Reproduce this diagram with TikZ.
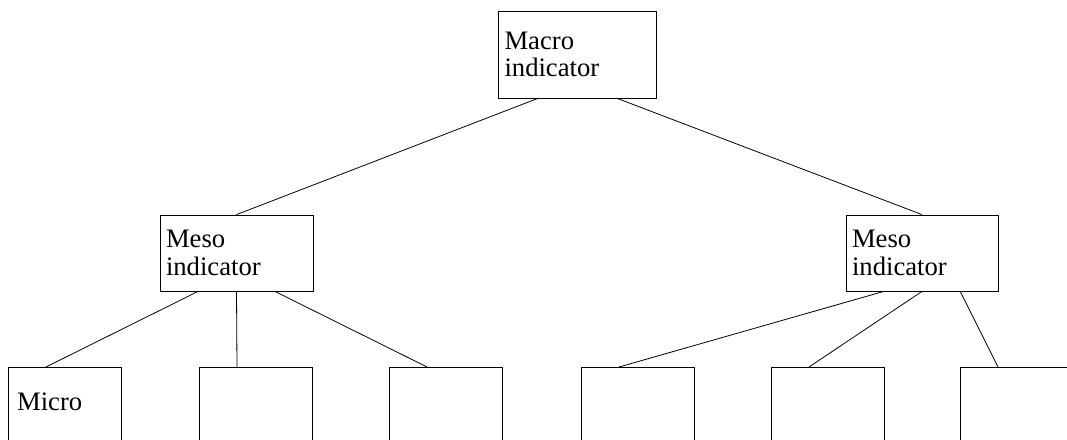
\documentclass[tikz,border=0pt]{standalone}
\usepackage{fontspec}
\setmainfont{Liberation Serif}
\usetikzlibrary{calc}

\tikzset{
	ind/.style={draw, rectangle, align=left, font=\fontsize{20}{20.5}\selectfont, inner xsep=4.5pt},
	leaf/.style={ind, anchor=north west, text width=72pt, inner xsep=6.5pt, inner ysep=19pt, text depth=60pt}
}

\begin{document}
\begin{tikzpicture}[x=0.75pt, y=-0.75pt, line width=0.6pt]
		\useasboundingbox (0,0) rectangle (1067,439);
		\clip (0,0) rectangle (1067,439);
		% top level
		\node[ind, minimum width=118.5pt, minimum height=65.25pt, text width=109.5pt] (macro) at (577.5,54.5) {Macro\\indicator};
		% middle level
		\node[ind, minimum width=114.75pt, minimum height=57pt, text width=105.75pt] (mesoL) at (236.5,253) {Meso\\indicator};
		\node[ind, minimum width=114pt, minimum height=57pt, text width=105pt] (mesoR) at (922,253) {Meso\\indicator};
		% bottom level
		\node[leaf] (m1) at (8,367) {Micro};
		\node[leaf] (m2) at (199,367) {};
		\node[leaf] (m3) at (389,367) {};
		\node[leaf] (m4) at (581,367) {};
		\node[leaf] (m5) at (771,367) {};
		\node[leaf] (m6) at (960,367) {};
		% connectors
		\draw ($(macro.south west)!0.25!(macro.south east)$) -- (mesoL.north)
			($(macro.south west)!0.75!(macro.south east)$) -- (mesoR.north);
		\draw ($(mesoL.south west)!0.25!(mesoL.south east)$) -- ($(m1.north west)!0.333!(m1.north east)$)
			(mesoL.south) -- ($(m2.north west)!0.333!(m2.north east)$)
			($(mesoL.south west)!0.75!(mesoL.south east)$) -- ($(m3.north west)!0.333!(m3.north east)$);
		\draw ($(mesoR.south west)!0.25!(mesoR.south east)$) -- ($(m4.north west)!0.333!(m4.north east)$)
			(mesoR.south) -- ($(m5.north west)!0.333!(m5.north east)$)
			($(mesoR.south west)!0.75!(mesoR.south east)$) -- ($(m6.north west)!0.333!(m6.north east)$);
	\end{tikzpicture}
\end{document}
